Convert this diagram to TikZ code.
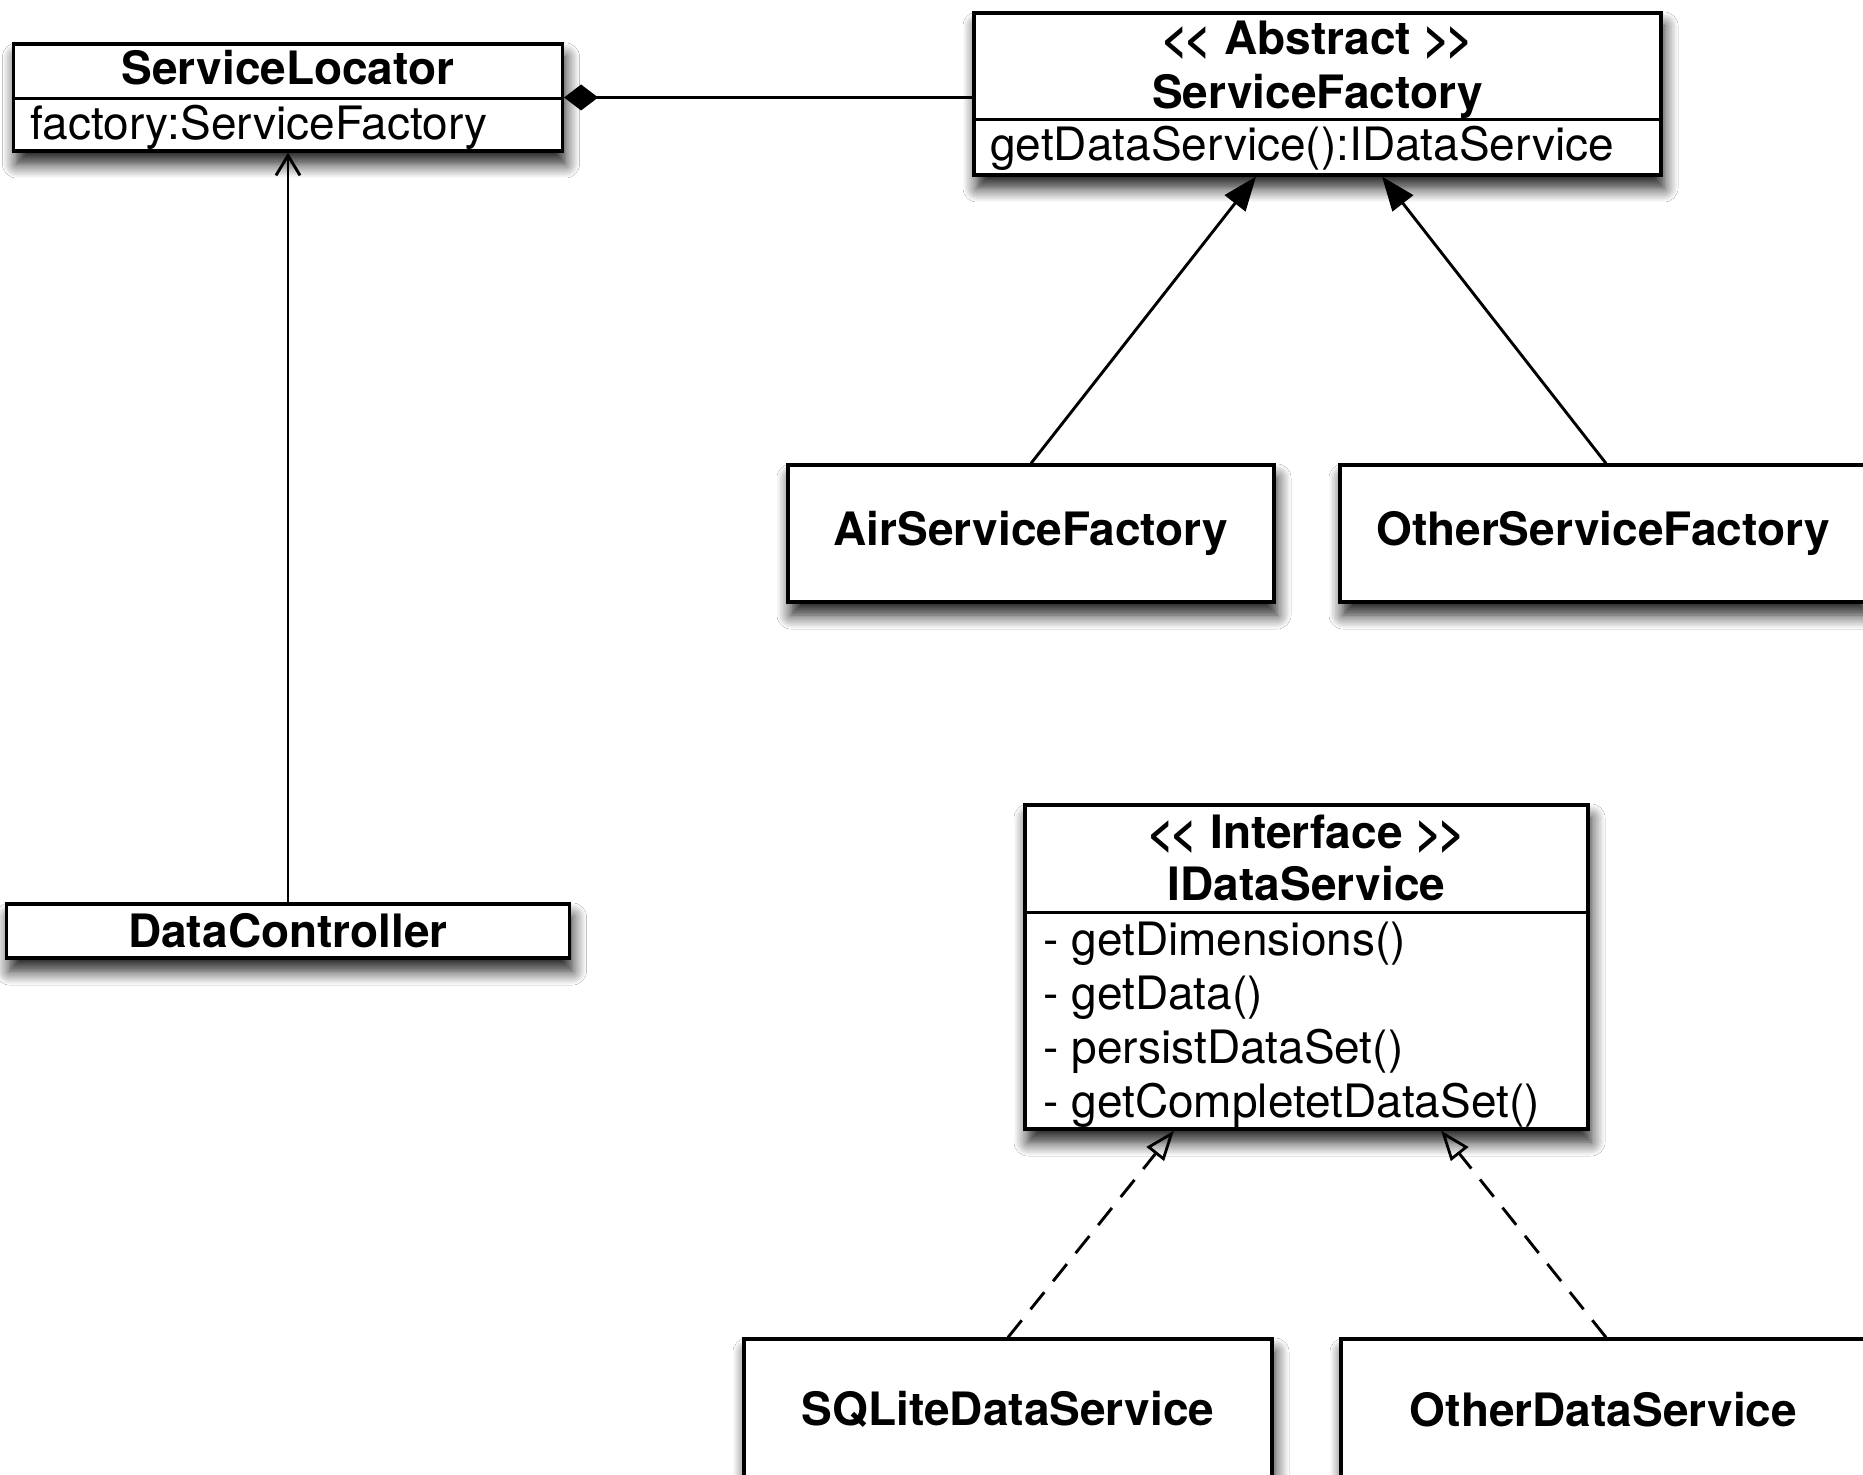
\documentclass[tikz,border=0pt]{standalone}
\usepackage{fontspec}
\setmainfont{TeX Gyre Heros}
\usetikzlibrary{arrows.meta,calc,shadows.blur}
\begin{document}
\begin{tikzpicture}[x=0.5pt,y=-0.5pt,
  cls/.style={draw=black, line width=1.6pt, fill=white, inner sep=0pt,
    blur shadow={shadow xshift=1.5pt, shadow yshift=-6.5pt, shadow blur radius=7pt, shadow opacity=90, shadow blur steps=10}},
  bfnt/.style={font=\fontsize{23}{27}\selectfont\bfseries},
  hd/.style={bfnt, inner sep=0pt, text height=16pt, text depth=0pt},
  bd/.style={font=\fontsize{23}{27}\selectfont, inner sep=0pt, text height=16pt, text depth=0pt, anchor=west},
  divider/.style={line width=1.5pt},
  conn/.style={line width=1.45pt},
  gen/.style={conn, -{Triangle[length=17pt, width=13pt]}},
  real/.style={conn, dash pattern=on 11pt off 7pt, -{Triangle[open, length=15pt, width=11pt, line width=1.4pt]}}
]
\useasboundingbox (0,0) rectangle (1863,1475);
\clip (0,0) rectangle (1863,1475);
\fill[white] (0,0) rectangle (1863,1475);

% ServiceLocator
\node[cls, minimum width=274.5pt, minimum height=53.5pt] (sl) at (288,97.5) {};
\draw[divider] ($(sl.west)+(0,1.5)$) -- ($(sl.east)+(0,1.5)$);
\node[hd] (slT) at (288,69) {ServiceLocator};
\node[bd] (slA) at (30,124) {factory:ServiceFactory};

% ServiceFactory
\node[cls, minimum width=343.5pt, minimum height=81pt] (sf) at (1317.5,94) {};
\draw[divider] ($(sf.west)+(0,26)$) -- ($(sf.east)+(0,26)$);
\node[hd] (sfS) at (1317.5,39) {<\kern-0.08em< Abstract >\kern-0.08em>};
\node[hd] (sfT) at (1317.5,93) {ServiceFactory};
\node[bd] (sfM) at (990,145) {getDataService():IDataService};

% Factories
\node[cls, bfnt, minimum width=243pt, minimum height=68.5pt] (asf) at (1031,533.5) {AirServiceFactory};
\node[cls, bfnt, minimum width=263pt, minimum height=68.5pt] (osf) at (1603,533.5) {OtherServiceFactory};

% DataController
\node[cls, bfnt, minimum width=281.5pt, minimum height=27pt] (dc) at (288,931) {DataController};

% IDataService
\node[cls, minimum width=281.5pt, minimum height=162pt] (ids) at (1306.5,967) {};
\draw[divider] ($(ids.west)+(0,-55)$) -- ($(ids.east)+(0,-55)$);
\node[hd] (idsS) at (1306.5,832) {<\kern-0.08em< Interface >\kern-0.08em>};
\node[hd] (idsT) at (1306.5,884) {IDataService};
\node[bd] (m1) at (1043,939) {- getDimensions()};
\node[bd] (m2) at (1043,993) {- getData()};
\node[bd] (m3) at (1043,1047) {- persistDataSet()};
\node[bd] (m4) at (1043,1101) {- getCompletetDataSet()};

% Data services
\node[cls, bfnt, minimum width=264pt, minimum height=70.5pt] (sql) at (1008,1409.5) {SQLiteDataService};
\node[cls, bfnt, minimum width=262.5pt, minimum height=70.5pt] (ods) at (1603.5,1409.5) {OtherDataService};

% Connectors
\draw[conn, -{Diamond[length=17pt, width=13pt]}] (sl.east -| sf.west) -- (sl.east);
\draw[conn, -{Straight Barb[length=10pt, width=12pt]}] (dc.north) -- (sl.south);
\draw[gen] (asf.north) -- ($(sf.south)+(-61.5,0)$);
\draw[gen] ($(osf.north)+(3,0)$) -- ($(sf.south)+(64.5,0)$);
\draw[real] (sql.north) -- ($(ids.south)+(-132.5,0)$);
\draw[real] ($(ods.north)+(2.5,0)$) -- ($(ids.south)+(134.5,0)$);
\end{tikzpicture}
\end{document}
